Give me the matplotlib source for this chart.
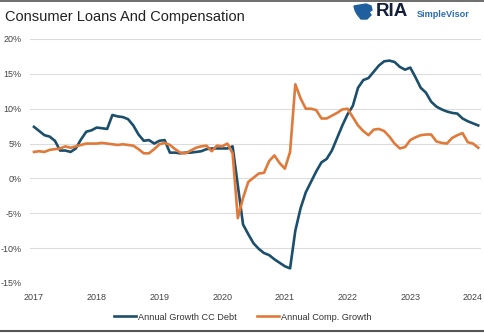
import numpy as np
import matplotlib
matplotlib.use("Agg")
import matplotlib.pyplot as plt
from matplotlib.lines import Line2D

plt.rcParams['font.family'] = ['Liberation Sans', 'DejaVu Sans']

# monthly series, Jan 2017 .. Feb 2024 (percent)
cc_debt = [7.4, 6.8, 6.2, 6.0, 5.4, 4.0, 4.0, 3.8, 4.3, 5.6, 6.7, 6.9,
           7.3, 7.2, 7.1, 9.1, 8.9, 8.8, 8.5, 7.6, 6.3, 5.4, 5.5, 5.0,
           5.4, 5.5, 3.7, 3.7, 3.6, 3.7, 3.7, 3.8, 3.9, 4.2, 4.3, 4.3,
           4.3, 4.3, 4.6, -1.0, -6.6, -8.0, -9.3, -10.1, -10.7, -11.0, -11.6, -12.1,
           -12.6, -12.9, -7.5, -4.3, -2.0, -0.5, 1.0, 2.3, 2.8, 4.0, 5.8, 7.6,
           9.2, 10.4, 13.0, 14.1, 14.4, 15.3, 16.2, 16.8, 16.9, 16.7, 16.0, 15.6,
           15.9, 14.5, 13.0, 12.3, 11.0, 10.3, 9.9, 9.6, 9.4, 9.3, 8.6, 8.2,
           7.9, 7.6]
comp = [3.8, 3.9, 3.8, 4.1, 4.2, 4.3, 4.6, 4.4, 4.6, 4.8, 5.0, 5.0,
        5.0, 5.1, 5.0, 4.9, 4.8, 4.9, 4.8, 4.7, 4.2, 3.6, 3.6, 4.2,
        4.9, 5.1, 4.8, 4.2, 3.7, 3.6, 4.0, 4.4, 4.6, 4.7, 3.9, 4.7,
        4.6, 5.0, 3.6, -5.7, -2.8, -0.5, 0.1, 0.7, 0.8, 2.5, 3.3, 2.2,
        1.4, 3.8, 13.5, 11.5, 10.0, 10.0, 9.8, 8.6, 8.6, 9.0, 9.4, 9.9,
        10.0, 8.8, 7.6, 6.8, 6.2, 7.0, 7.1, 6.8, 6.0, 5.0, 4.3, 4.5,
        5.5, 5.9, 6.2, 6.3, 6.3, 5.3, 5.1, 5.0, 5.8, 6.2, 6.5, 5.2,
        5.0, 4.4]
years = list(range(2017, 2025))
yticks = [-15, -10, -5, 0, 5, 10, 15, 20]

t = 2017 + np.arange(len(cc_debt)) / 12.0

blue = '#1b4f6b'
orange = '#e07a3a'

fig = plt.figure(figsize=(4.85, 3.33), dpi=100)
ax = fig.add_axes([30/485, 1 - 283/333, 451/485, 244/333])

ax.plot(t, cc_debt, color=blue, lw=1.9, label='Annual Growth CC Debt', zorder=3)
ax.plot(t, comp, color=orange, lw=1.9, label='Annual Comp. Growth', zorder=3)

ax.set_xlim(2017 - 4/62.7, 2024 + 8/62.7)
ax.set_ylim(-15, 20)
ax.set_yticks(yticks)
ax.set_yticklabels(['%d%%' % v for v in yticks])
ax.set_xticks(years)
ax.set_xticklabels([str(y) for y in years])
ax.grid(axis='y', color='#dcdcdc', lw=0.8)
ax.set_axisbelow(True)
for s in ax.spines.values():
    s.set_visible(False)
ax.tick_params(axis='both', length=0, labelsize=6.5, colors='#444444')
ax.tick_params(axis='y', pad=6)
ax.tick_params(axis='x', pad=7)
for lab in ax.get_yticklabels():
    lab.set_horizontalalignment('right')

fig.text(5/485, 1 - 17/333, 'Consumer Loans And Compensation', fontsize=10.5,
         color='#222222', va='center', ha='left')

# logo
fig.text(376/485, 1 - 12/333, 'RIA', fontsize=13.5, fontweight='bold',
         color='#14203a', va='center', ha='left')
fig.text(417/485, 1 - 14.5/333, 'SimpleVisor', fontsize=6.6, fontweight='bold',
         color='#2a6db5', va='center', ha='left')
head = np.array([[354, 6], [366, 4], [371, 6], [372, 10], [369, 12],
                 [371, 15], [367, 19], [361, 19], [357, 14], [355, 10]])
fig.patches.append(plt.Polygon(np.column_stack([head[:, 0]/485, 1 - head[:, 1]/333]),
                               closed=True, transform=fig.transFigure,
                               color='#1f5f9e', zorder=5))

handles = [Line2D([], [], color=blue, lw=1.9), Line2D([], [], color=orange, lw=1.9)]
fig.legend(handles, ['Annual Growth CC Debt', 'Annual Comp. Growth'],
           loc='center', bbox_to_anchor=(0.5, 1 - 317/333), ncol=2, frameon=False,
           fontsize=6.6, handlelength=2.4, handletextpad=0.2, columnspacing=2.2,
           labelcolor='#333333')

# thin frame lines top and bottom
fig.add_artist(Line2D([0, 1], [0.998, 0.998], transform=fig.transFigure,
                      color='#555555', lw=1.2))
fig.add_artist(Line2D([0, 1], [0.006, 0.006], transform=fig.transFigure,
                      color='#555555', lw=1.5))

fig.savefig('out.png', dpi=100)
